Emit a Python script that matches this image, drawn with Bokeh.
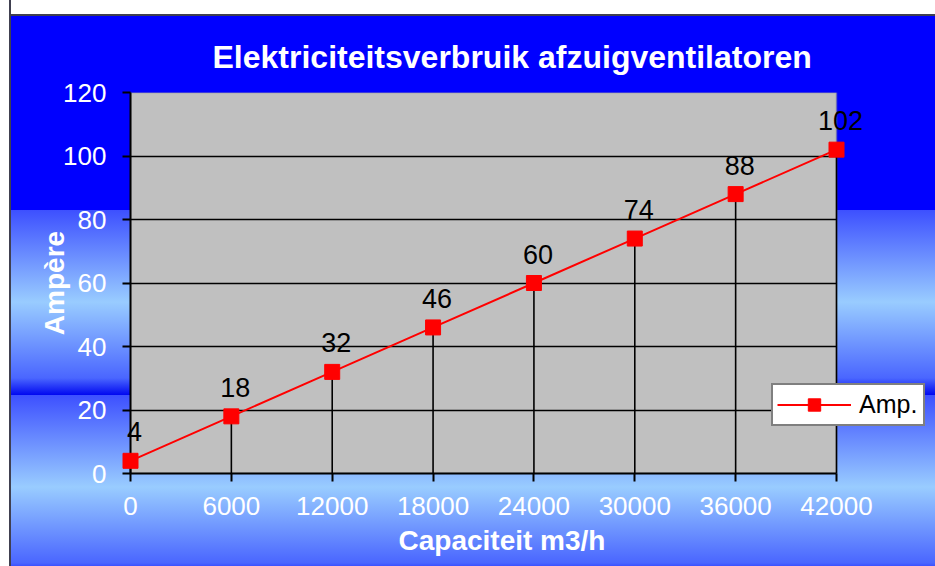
from bokeh.plotting import figure
from bokeh.models import (ColumnDataSource, Range1d, Legend, LegendItem,
                          FixedTicker, Title, BoxAnnotation, Grid)
from bokeh.core.properties import value
from bokeh.embed import file_html
from bokeh.resources import INLINE

# ---- data ----
capacity = [0, 6000, 12000, 18000, 24000, 30000, 36000, 42000]
ampere = [4, 18, 32, 46, 60, 74, 88, 102]
value_labels = [str(v) for v in ampere]
x_ticks = [0, 6000, 12000, 18000, 24000, 30000, 36000, 42000]
y_ticks = [0, 20, 40, 60, 80, 100, 120]
title_text = "Elektriciteitsverbruik  afzuigventilatoren"
x_label = "Capaciteit m3/h"
y_label = "Ampère"
series_name = "Amp."

FONT = "Liberation Sans"

# geometry (pixels): plot area 130..836 horizontally; frame continues to the right edge
W, H = 935, 566
PLOT_L, PLOT_R = 130, 836
x_min, x_max = x_ticks[0], x_ticks[-1]
frame_x_end = x_min + (x_max - x_min) * (W - PLOT_L) / (PLOT_R - PLOT_L)

src = ColumnDataSource(dict(x=capacity, y=ampere, lbl=value_labels,
                            y0=[0] * len(capacity)))

p = figure(width=W, height=H, output_backend="svg", toolbar_location=None,
           x_range=Range1d(x_min, frame_x_end), y_range=Range1d(y_ticks[0], y_ticks[-1]),
           min_border_left=PLOT_L, min_border_right=0, min_border_top=92,
           min_border_bottom=93, title=None)

p.styles = {
    "background": (
        "linear-gradient(to right, #ffffff 0px, #ffffff 9px, #404050 9px, #404050 11px, rgba(0,0,0,0) 11px), "
        "linear-gradient(to bottom, #ffffff 0px, #ffffff 14px, #404050 14px, #404050 16px, "
        "#0000ff 16px, #0000ff 210px, #3d50ff 210px, #99ccff 302px, #4a66ff 378px, #0008f0 395px, "
        "#3d50ff 395px, #99ccff 487px, #4a66ff 563px, #3a50ff 566px)"
    )
}
p.border_fill_color = None
p.background_fill_color = None
p.outline_line_color = None

# grey plot area with grey top/right edge
plot_area = BoxAnnotation(left=x_min, right=x_max, bottom=y_ticks[0], top=y_ticks[-1],
                          fill_color="#c0c0c0", fill_alpha=1,
                          line_color="#808080", line_width=2, level="image")
p.add_layout(plot_area)

t = Title(text=title_text, align="left", offset=82, text_color="white",
          text_font=FONT, text_font_size="32px", text_font_style="bold",
          standoff=36)
p.add_layout(t, "above")

# axes
for ax in (p.xaxis[0], p.yaxis[0]):
    ax.axis_line_color = "black"
    ax.axis_line_width = 2
    ax.major_tick_line_color = "black"
    ax.major_tick_line_width = 2
    ax.major_tick_in = 0
    ax.major_tick_out = 8
    ax.minor_tick_line_color = None
    ax.major_label_text_color = "white"
    ax.major_label_text_font = FONT
    ax.major_label_text_font_size = "26px"
    ax.axis_label_text_color = "white"
    ax.axis_label_text_font = FONT
    ax.axis_label_text_font_style = "bold"

p.xaxis.bounds = (x_min, x_max)
p.xaxis.ticker = FixedTicker(ticks=x_ticks)
p.yaxis.ticker = FixedTicker(ticks=y_ticks)
p.yaxis.axis_label = y_label
p.yaxis.axis_label_text_font_size = "28px"
p.xaxis.major_label_standoff = 15
p.yaxis.major_label_standoff = 16
p.yaxis.axis_label_standoff = -10

# x-axis caption, placed below the axis (centred like the reference)
xt = Title(text=x_label, align="left", offset=268, text_color="white",
           text_font=FONT, text_font_size="28px", text_font_style="bold",
           vertical_align="top", standoff=14)
p.add_layout(xt, "below")

p.xgrid.grid_line_color = None
grid_vals = y_ticks[1:-1]
if "cross_bounds" in Grid.properties():
    p.ygrid.ticker = FixedTicker(ticks=grid_vals)
    p.ygrid.cross_bounds = (x_min, x_max)
    p.ygrid.grid_line_color = "black"
    p.ygrid.grid_line_width = 1.6
else:
    p.ygrid.grid_line_color = None
    p.segment(x0=[x_min] * len(grid_vals), y0=grid_vals,
              x1=[x_max] * len(grid_vals), y1=grid_vals,
              line_color="black", line_width=1.6)

# drop lines
p.segment(x0="x", y0="y0", x1="x", y1="y", source=src, line_color="black",
          line_width=1.6, level="overlay")

# series
ln = p.line("x", "y", source=src, line_color="#ff0000", line_width=2)
sc = p.scatter("x", "y", source=src, marker="square", size=15,
               fill_color="#ff0000", line_color="#ff0000", level="overlay")

p.text(x="x", y="y", text="lbl", source=src, x_offset=4, y_offset=-29,
       text_align="center", text_baseline="alphabetic",
       text_font=value(FONT), text_font_size="27px", text_color="black",
       level="overlay")

legend = Legend(items=[LegendItem(label=series_name, renderers=[ln, sc])],
                location=(641, 47), background_fill_color="white",
                background_fill_alpha=1, border_line_color="black",
                border_line_width=2, label_text_font=FONT,
                label_text_font_size="25px", label_text_color="black",
                glyph_width=74, glyph_height=31, label_standoff=8,
                padding=4, margin=0, label_width=60, label_height=31)
p.add_layout(legend, "center")

open("out.html", "w").write(file_html(p, INLINE))
